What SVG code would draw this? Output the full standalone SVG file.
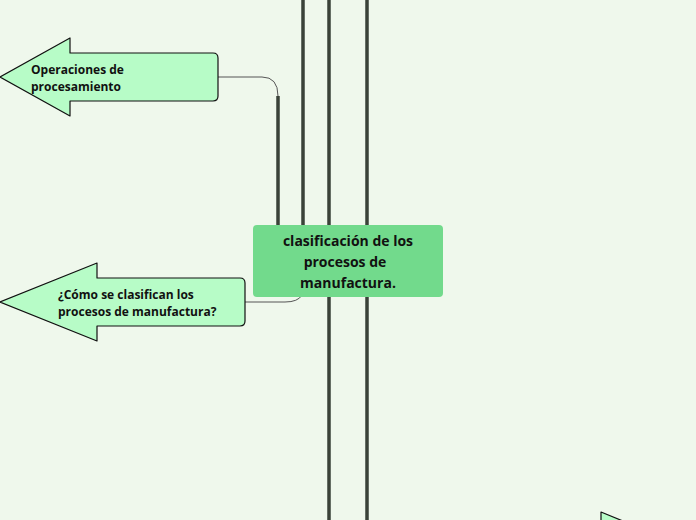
<svg xmlns="http://www.w3.org/2000/svg" width="696" height="520" viewBox="0 0 696 520">
<style>
.n{fill:#b7fcc7;stroke:#111;stroke-width:1.2;stroke-linejoin:round}
.t{font-family:"Open Sans","DejaVu Sans",sans-serif;font-weight:bold;font-size:12px;fill:#111}
.c{fill:none;stroke:#3a4238;stroke-width:3.5}
.thin{fill:none;stroke:#555;stroke-width:1}
</style>
<rect width="696" height="520" fill="#eff8ec"/>
<g id="connectors">
<path class="c" d="M303 0V228M329 0V520M367 0V520M278 96V228"/>
<path class="thin" d="M218 77H262Q278 77 278 96"/>
<path class="thin" d="M245 302H285Q298 302 302 295"/>
</g>
<g id="n1">
<path class="n" d="M0 77L70 38V53H213Q218 53 218 58V96Q218 101 213 101H70V116Z"/>
<text class="t" x="31" y="74">Operaciones de</text><text class="t" x="31" y="91">procesamiento</text>
</g>
<g id="n2">
<path class="n" d="M0 302L97 263V278H240Q245 278 245 283V321Q245 326 240 326H97V341Z"/>
<text class="t" x="58" y="299">¿Cómo se clasifican los</text><text class="t" x="58" y="316">procesos de manufactura?</text>
</g>
<g id="main">
<rect x="253" y="225" width="190" height="72" rx="4" fill="#72da8c"/>
<text class="t" style="font-size:14px" text-anchor="middle" x="348" y="246">clasificación de los</text>
<text class="t" style="font-size:14px" text-anchor="middle" x="345" y="267">procesos de</text>
<text class="t" style="font-size:14px" text-anchor="middle" x="348" y="288">manufactura.</text>
</g>
<g id="n3">
<path class="n" d="M601 530V512L640 528"/>
</g>
</svg>
